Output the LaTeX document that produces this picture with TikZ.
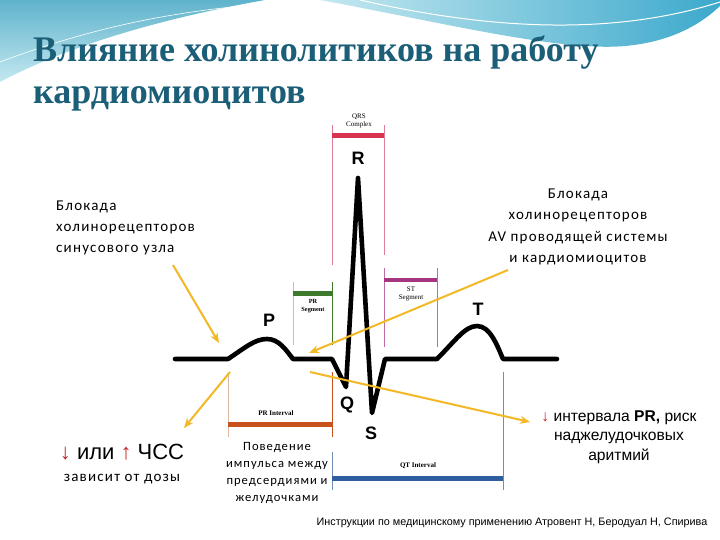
\documentclass[tikz,border=0pt]{standalone}
\usepackage{fontspec}
\setmainfont[LetterSpace=8]{Carlito}
\setsansfont{Liberation Sans}
\newfontfamily\headfont{Liberation Serif}
\usetikzlibrary{arrows.meta,positioning}
\definecolor{titlec}{HTML}{1B5E78}
\definecolor{skya}{HTML}{5FB3CC}
\definecolor{skyb}{HTML}{C4E8F0}
\definecolor{skyc}{HTML}{3DA9CC}
\definecolor{ptrc}{HTML}{F2B826}
\definecolor{downc}{HTML}{C0262A}
\definecolor{qrsc}{HTML}{D93350}
\definecolor{qrsl}{HTML}{E07E98}
\definecolor{prsc}{HTML}{3E7A2C}
\definecolor{prsl}{HTML}{B9C8A9}
\definecolor{stc}{HTML}{A3367E}
\definecolor{stl}{HTML}{BE6BA6}
\definecolor{pric}{HTML}{C9521C}
\definecolor{pril}{HTML}{D9B9A1}
\definecolor{qtc}{HTML}{2E5E9F}
\definecolor{qtl}{HTML}{6F8DB5}
\tikzset{
  >={Stealth[length=10pt,width=8pt]},
  ecg/.style={line width=4.6pt,line join=round,line cap=round,black},
  wave/.style={font=\sffamily\bfseries\fontsize{18}{18}\selectfont},
  bar/.style={line width=5pt},
  tick/.style={line width=0.8pt},
  tag/.style={font=\headfont\fontsize{7}{8}\selectfont,align=center,inner sep=0pt},
  btag/.style={tag,font=\headfont\bfseries\fontsize{7}{8}\selectfont},
  note/.style={font=\fontsize{15}{21.3}\selectfont,inner sep=0pt},
  snote/.style={font=\fontsize{12.6}{16.7}\selectfont,align=center,inner sep=0pt},
  anote/.style={font=\sffamily\fontsize{15.6}{19.5}\selectfont,align=center,inner sep=0pt},
  ptr/.style={->,draw=ptrc,line width=2pt},
}

\begin{document}
\begin{tikzpicture}[x=1pt,y=-1pt]
  \useasboundingbox[fill=white] (0,0) rectangle (720,540);
  % фон: волны в шапке
  \shade[top color=skya,bottom color=skyb] (0,0) -- (265,0) .. controls (175,16) and (75,42) .. (0,82) -- cycle;
  \shade[left color=skyb,right color=skyc] (320,0) .. controls (440,22) and (560,52) .. (625,46) .. controls (670,42) and (700,25) .. (720,6) -- (720,0) -- cycle;
  \draw[white,line width=1pt] (360,0) .. controls (470,25) and (600,40) .. (720,2);
  \draw[white,line width=0.6pt] (0,62) .. controls (80,32) and (160,12) .. (265,4);
  % заголовок
  \node[anchor=base west,inner sep=0pt,text=titlec,font=\headfont\bfseries\fontsize{36}{42}\selectfont] (title1) at (33,62) {Влияние холинолитиков на работу};
  \node[anchor=base west,inner sep=0pt,text=titlec,font=\headfont\bfseries\fontsize{36}{42}\selectfont] (title2) at (33,104) {кардиомиоцитов};
  % интервалы и сегменты
  \draw[tick,qrsl] (332,125) -- (332,265) (384,125) -- (384,255);
  \draw[bar,qrsc] (332,136) -- (384,136);
  \node[tag] (qrs) at (359,121) {QRS\\Complex};
  \draw[tick,prsl] (293,282) -- (293,345);
  \draw[tick,prsc] (332,282) -- (332,345);
  \draw[bar,prsc] (293,293) -- (332,293);
  \node[btag,font=\headfont\bfseries\fontsize{6.3}{8}\selectfont] (prs) at (313,306) {PR\\Segment};
  \draw[tick,stl] (384,268) -- (384,347) (437,268) -- (437,347);
  \draw[bar,line width=4pt,stc] (384,280) -- (437,280);
  \node[tag] (st) at (411,294) {ST\\Segment};
  \draw[tick,pril] (228,373) -- (228,437);
  \draw[tick,pric] (332,372) -- (332,437);
  \draw[bar,pric] (228,424) -- (332,424);
  \node[btag] (pri) at (276,413) {PR Interval};
  \draw[tick,qtl] (332,452) -- (332,490) (503,372) -- (503,490);
  \draw[bar,qtc] (332,478) -- (503,478);
  \node[btag] (qti) at (418,466) {QT Interval};
  % ЭКГ
  \draw[ecg] (175,359) -- (228,359) .. controls (246,347) and (255,339) .. (267,339) .. controls (279,339) and (286,350) .. (293,359)
    -- (332,359) -- (346,387) -- (358,178) -- (372,413) -- (385,359) -- (437,359)
    .. controls (455,341) and (465,326) .. (477,326) .. controls (490,326) and (497,345) .. (503,359) -- (557,359);
  \node[wave] (wR) at (358,158) {R};
  \node[wave] (wP) at (269,320) {P};
  \node[wave] (wT) at (478,309) {T};
  \node[wave] (wQ) at (347,405) {Q};
  \node[wave] (wS) at (371,433) {S};
  % подписи
  \node[note,anchor=west,align=left] (sinus) at (56,228) {Блокада\\холинорецепторов\\синусового узла};
  \node[note,align=center] (avnode) at (578,227) {Блокада\\холинорецепторов\\AV проводящей системы\\и кардиомиоцитов};
  \node[inner sep=0pt,font=\sffamily\fontsize{22}{22}\selectfont] (hr) at (122,452) {{\color{downc}↓} или {\color{downc}↑} ЧСС};
  \node[inner sep=0pt,font=\fontsize{15}{15}\selectfont] (dose) at (122,479) {зависит от дозы};
  \node[snote] (impulse) at (277,473) {Поведение\\импульса между\\предсердиями и\\желудочками};
  \node[anote] (prdown) at (619,437) {{\color{downc}↓} интервала \textbf{PR,} риск\\наджелудочковых\\аритмий};
  \node[inner sep=0pt,font=\sffamily\fontsize{10.8}{12}\selectfont] (src) at (512,523) {Инструкции по медицинскому применению Атровент Н, Беродуал Н, Спирива};
  % стрелки
  \coordinate (s1) at (173,265); \coordinate (e1) at (219,343);
  \coordinate (s2) at (508,270); \coordinate (e2) at (309,353);
  \coordinate (s3) at (230,372); \coordinate (e3) at (184,428);
  \coordinate (s4) at (310,372); \coordinate (e4) at (530,422);
  \draw[ptr] (s1) -- (e1);
  \draw[ptr] (s2) -- (e2);
  \draw[ptr] (s3) -- (e3);
  \draw[ptr] (s4) -- (e4);
\end{tikzpicture}
\end{document}
